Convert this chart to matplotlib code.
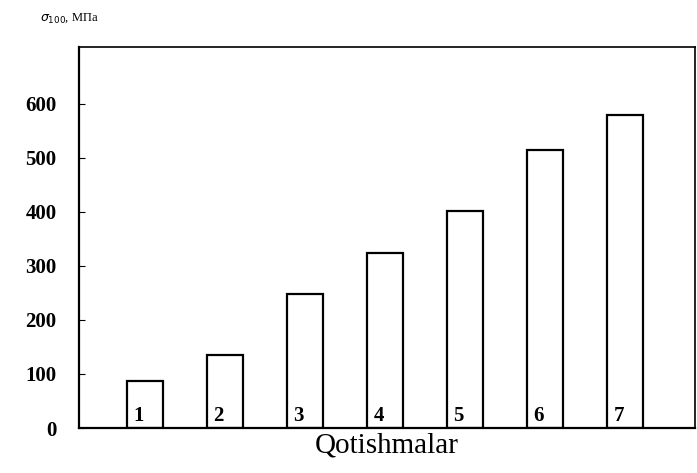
import matplotlib.pyplot as plt

# Alloy numbers and their sigma_100 strength, MPa
alloys = [1, 2, 3, 4, 5, 6, 7]
sigma_100 = [87, 135, 248, 324, 402, 515, 580]
yticks = [0, 100, 200, 300, 400, 500, 600]

plt.rcParams["font.family"] = ["Liberation Serif", "DejaVu Serif"]

fig = plt.figure(figsize=(6.97, 4.73), dpi=100)
ax = fig.add_axes([0.1133, 0.0951, 0.8838, 0.8055])

width = 0.45
ax.bar(alloys, sigma_100, width=width, color="white", edgecolor="black", linewidth=1.6)

# numbers sit in the lower left corner of each bar
for a in alloys:
    ax.text(a - width / 2 + 0.08, 4, str(a), ha="left", va="bottom",
            fontsize=15, fontweight="semibold")

ax.set_xlim(0.175, 7.875)
ax.set_ylim(0, 705)
ax.set_xticks([])
ax.set_yticks(yticks)
ax.set_yticklabels([str(v) for v in yticks], fontsize=15, fontweight="bold")
ax.tick_params(axis="y", direction="in", length=4, pad=16)

for side in ["left", "bottom"]:
    ax.spines[side].set_linewidth(1.6)
for side in ["top", "right"]:
    ax.spines[side].set_linewidth(1.2)

ax.set_xlabel("Qotishmalar", fontsize=21, labelpad=3)
fig.text(0.057, 0.962, r"$\sigma_{100}$, МПа", fontsize=9, ha="left", va="center")

fig.savefig("out.png", dpi=100)
